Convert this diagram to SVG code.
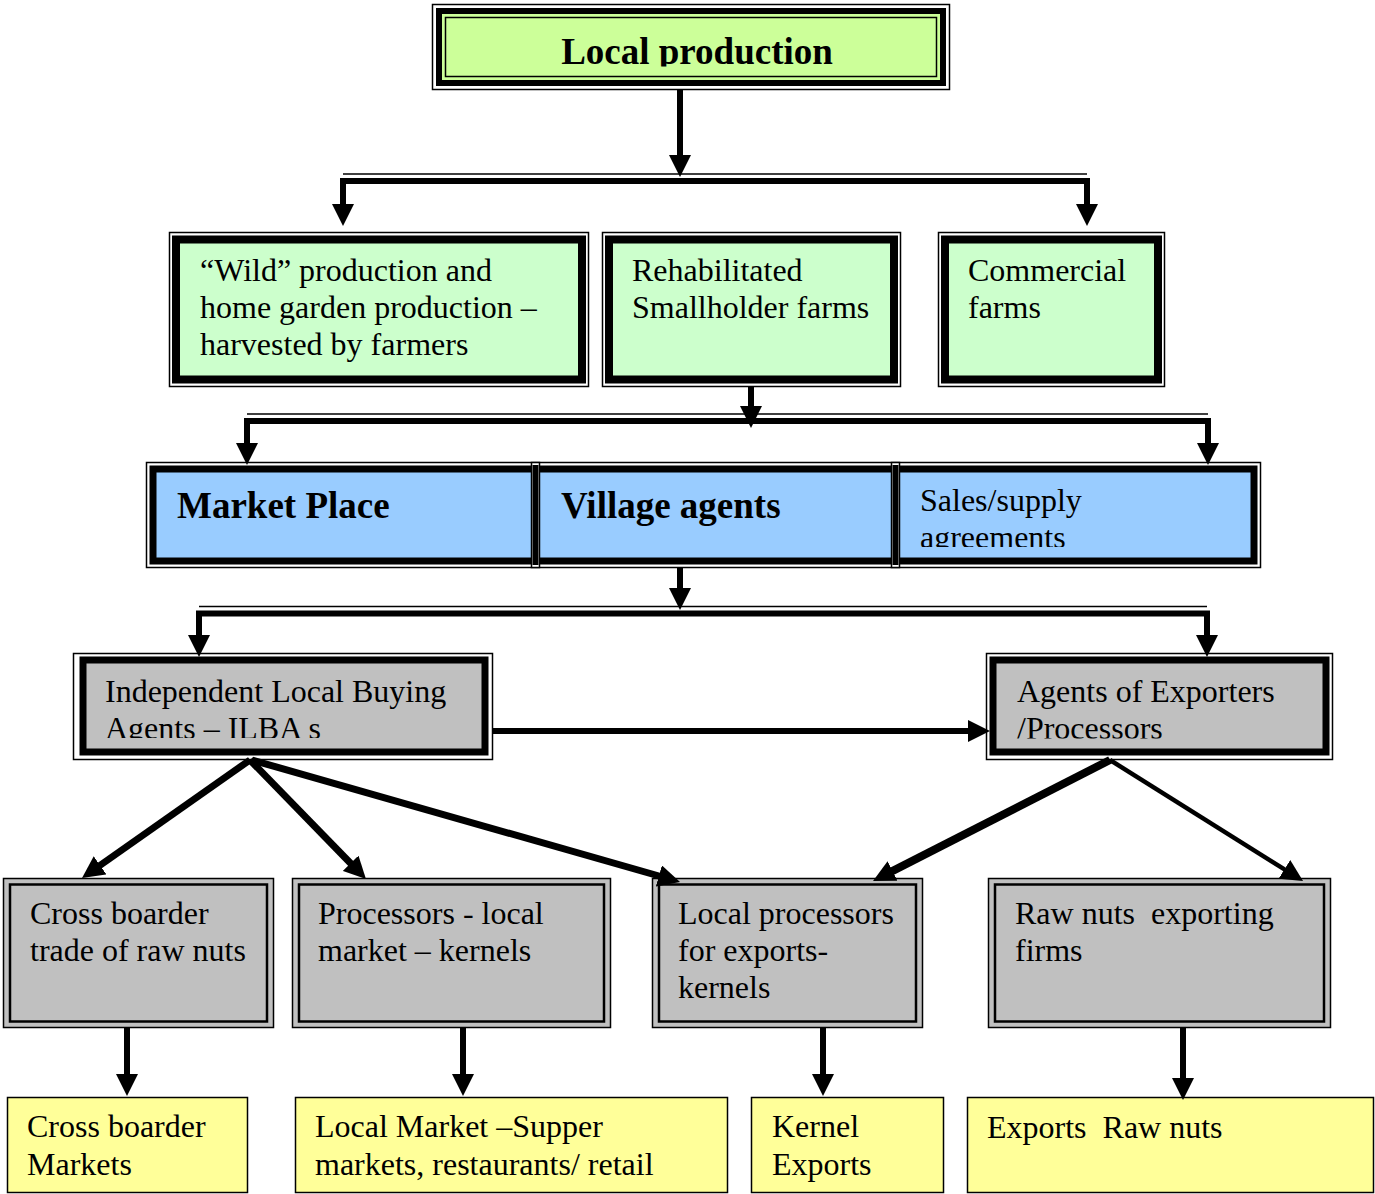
<svg xmlns="http://www.w3.org/2000/svg" width="1375" height="1194" viewBox="0 0 1375 1194">
<style>
.t{font-family:"Liberation Serif","Times New Roman",serif;font-size:32px;fill:#000;white-space:pre}
.b{font-weight:bold;font-size:37px}
.thin{fill:#fff;stroke:#000;stroke-width:1.5}
.gthick{fill:#CCFFCC;stroke:#000;stroke-width:8}
.gyell{fill:#FFFF99;stroke:#000;stroke-width:1.5}
.gray1{fill:#C0C0C0;stroke:#000;stroke-width:1.5}
.gray2{fill:none;stroke:#000;stroke-width:2.5}
.grthick{fill:#C0C0C0;stroke:#000;stroke-width:7}
.conn line{stroke:#000;stroke-width:6}
.conn line.a{marker-end:url(#ah)}
.conn line.bar{stroke-width:7}
.conn line.tl{stroke-width:1.5}
</style>
<defs>
<marker id="ah" viewBox="0 0 22 22" markerWidth="22" markerHeight="22" markerUnits="userSpaceOnUse" refX="2" refY="11" orient="auto">
<path d="M0,0 L22,11 L0,22 z" fill="#000"/>
</marker>
<clipPath id="c1"><rect x="432" y="0" width="520" height="66.5"/></clipPath>
<clipPath id="c2"><rect x="900" y="470" width="360" height="77"/></clipPath>
<clipPath id="c3"><rect x="80" y="660" width="410" height="78"/></clipPath>
<clipPath id="c4"><rect x="990" y="660" width="340" height="78.5"/></clipPath>
</defs>

<g id="local-production">
<rect class="thin" x="432.5" y="4.5" width="517" height="85"/>
<rect x="439" y="11" width="504" height="72" fill="#CCFF99" stroke="#000" stroke-width="6"/>
<rect x="445.5" y="17.5" width="491" height="59" fill="#CCFF99" stroke="#000" stroke-width="1.5"/>
<text class="t b" x="697" y="64" text-anchor="middle" clip-path="url(#c1)">Local production</text>
</g>

<g id="wild-production">
<rect class="thin" x="169.5" y="232.5" width="419" height="154"/>
<rect class="gthick" x="176" y="239.5" width="406" height="140"/>
<text class="t" x="200" y="281">“Wild” production and</text>
<text class="t" x="200" y="318">home garden production –</text>
<text class="t" x="200" y="355">harvested by farmers</text>
</g>

<g id="smallholder-farms">
<rect class="thin" x="602.5" y="232.5" width="298" height="154"/>
<rect class="gthick" x="609" y="239.5" width="285" height="140"/>
<text class="t" x="632" y="281">Rehabilitated</text>
<text class="t" x="632" y="318">Smallholder farms</text>
</g>

<g id="commercial-farms">
<rect class="thin" x="938.5" y="232.5" width="226" height="154"/>
<rect class="gthick" x="945" y="239.5" width="213" height="140"/>
<text class="t" x="968" y="281">Commercial</text>
<text class="t" x="968" y="318">farms</text>
</g>

<g id="blue-row-frame">
<rect class="thin" x="146.5" y="462.5" width="1114" height="105"/>
<rect x="153" y="469" width="1101" height="92" fill="#99CCFF" stroke="#000" stroke-width="7"/>
<rect class="thin" x="531.5" y="462.5" width="8" height="105"/>
<line x1="535.5" y1="465" x2="535.5" y2="565" stroke="#000" stroke-width="6"/>
<rect class="thin" x="891.5" y="462.5" width="8" height="105"/>
<line x1="895.5" y1="465" x2="895.5" y2="565" stroke="#000" stroke-width="6"/>
</g>
<g id="market-place">
<text class="t b" x="177" y="518">Market Place</text>
</g>
<g id="village-agents">
<text class="t b" x="561" y="518">Village agents</text>
</g>
<g id="sales-supply">
<text class="t" x="920" y="511">Sales/supply</text>
<text class="t" x="920" y="548" clip-path="url(#c2)">agreements</text>
</g>

<g id="ilba">
<rect class="thin" x="73.5" y="653.5" width="419" height="106"/>
<rect class="grthick" x="83" y="660" width="402" height="92"/>
<text class="t" x="105" y="702">Independent Local Buying</text>
<text class="t" x="105" y="739" clip-path="url(#c3)">Agents – ILBA s</text>
</g>

<g id="agents-exporters">
<rect class="thin" x="986.5" y="653.5" width="346" height="106"/>
<rect class="grthick" x="993" y="660" width="333" height="92"/>
<text class="t" x="1017" y="702">Agents of Exporters</text>
<text class="t" x="1017" y="739" clip-path="url(#c4)">/Processors</text>
</g>

<g id="cross-border-trade">
<rect class="gray1" x="3.5" y="878.5" width="270" height="149"/>
<rect class="gray2" x="10" y="884.5" width="257" height="137"/>
<text class="t" x="30" y="924">Cross boarder</text>
<text class="t" x="30" y="961">trade of raw nuts</text>
</g>

<g id="processors-local">
<rect class="gray1" x="292.5" y="878.5" width="318" height="149"/>
<rect class="gray2" x="299" y="884.5" width="305" height="137"/>
<text class="t" x="318" y="924">Processors - local</text>
<text class="t" x="318" y="961">market – kernels</text>
</g>

<g id="local-processors-exports">
<rect class="gray1" x="652.5" y="878.5" width="270" height="149"/>
<rect class="gray2" x="659" y="884.5" width="257" height="137"/>
<text class="t" x="678" y="924">Local processors</text>
<text class="t" x="678" y="961">for exports-</text>
<text class="t" x="678" y="998">kernels</text>
</g>

<g id="raw-nuts-exporting">
<rect class="gray1" x="988.5" y="878.5" width="342" height="149"/>
<rect class="gray2" x="995" y="884.5" width="329" height="137"/>
<text class="t" x="1015" y="924">Raw nuts  exporting</text>
<text class="t" x="1015" y="961">firms</text>
</g>

<g id="cross-border-markets">
<rect class="gyell" x="7.5" y="1097.5" width="240" height="95"/>
<text class="t" x="27" y="1137">Cross boarder</text>
<text class="t" x="27" y="1175">Markets</text>
</g>

<g id="local-market">
<rect class="gyell" x="295.5" y="1097.5" width="432" height="95"/>
<text class="t" x="315" y="1137">Local Market –Supper</text>
<text class="t" x="315" y="1175">markets, restaurants/ retail</text>
</g>

<g id="kernel-exports">
<rect class="gyell" x="751.5" y="1097.5" width="192" height="95"/>
<text class="t" x="772" y="1137">Kernel</text>
<text class="t" x="772" y="1175">Exports</text>
</g>

<g id="exports-raw-nuts">
<rect class="gyell" x="967.5" y="1097.5" width="406" height="95"/>
<text class="t" x="987" y="1138">Exports  Raw nuts</text>
</g>

<g id="connectors" class="conn">
<!-- bar 1 -->
<line class="a" x1="680" y1="90" x2="680" y2="157"/>
<line class="tl" x1="343" y1="174" x2="1087" y2="174"/>
<line x1="340" y1="181" x2="1090" y2="181"/>
<line class="a" x1="343" y1="178" x2="343" y2="206"/>
<line class="a" x1="1087" y1="178" x2="1087" y2="206"/>
<!-- bar 2 -->
<line class="tl" x1="247" y1="414" x2="1208" y2="414"/>
<line x1="244" y1="421" x2="1211" y2="421"/>
<line class="a" x1="751" y1="387" x2="751" y2="408"/>
<line class="a" x1="247" y1="418" x2="247" y2="445"/>
<line class="a" x1="1208" y1="418" x2="1208" y2="445"/>
<!-- bar 3 -->
<line class="a" x1="680" y1="568" x2="680" y2="590"/>
<line class="tl" x1="199" y1="606.5" x2="1207" y2="606.5"/>
<line x1="196" y1="613.5" x2="1210" y2="613.5"/>
<line class="a" x1="199" y1="611" x2="199" y2="637"/>
<line class="a" x1="1207" y1="611" x2="1207" y2="637"/>
<!-- ILBA to agents -->
<line class="a" x1="492" y1="731" x2="970" y2="731"/>
<!-- diagonals -->
<line class="a" style="stroke-width:7" x1="250" y1="760" x2="98.4" y2="866.5"/>
<line class="a" style="stroke-width:7" x1="250" y1="760" x2="352" y2="864.7"/>
<line class="a" style="stroke-width:7" x1="252" y1="760" x2="660.8" y2="876.5"/>
<line class="a" style="stroke-width:8" x1="1110" y1="760" x2="890.8" y2="871.9"/>
<line class="a" style="stroke-width:4.5" x1="1110" y1="760" x2="1286.1" y2="870.4"/>
<!-- down to yellow -->
<line class="a" x1="127" y1="1028" x2="127" y2="1076"/>
<line class="a" x1="463" y1="1028" x2="463" y2="1076"/>
<line class="a" x1="823" y1="1028" x2="823" y2="1076"/>
<line class="a" x1="1183" y1="1028" x2="1183" y2="1080"/>
</g>
</svg>
